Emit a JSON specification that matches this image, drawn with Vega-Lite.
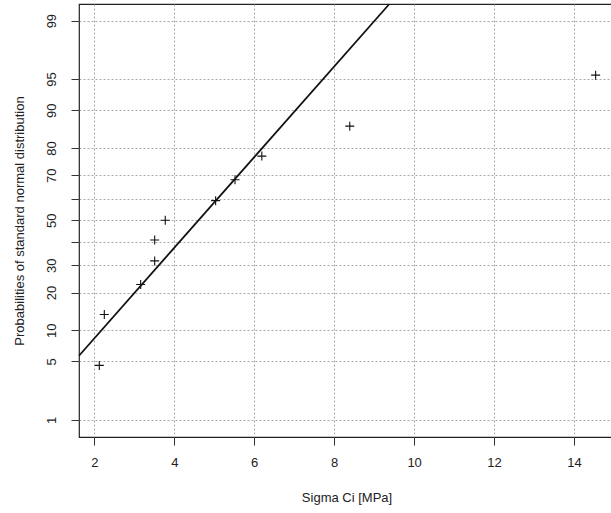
{
  "$schema": "https://vega.github.io/schema/vega-lite/v6.json",
  "width": 535,
  "height": 433,
  "autosize": "none",
  "padding": {"left": 79, "top": 4, "right": 0, "bottom": 76},
  "background": "white",
  "config": {
    "view": {"stroke": "#222", "strokeWidth": 1.2},
    "font": "Liberation Sans",
    "axis": {
      "labelFont": "Liberation Sans",
      "titleFont": "Liberation Sans",
      "labelFontSize": 13,
      "titleFontSize": 13,
      "titleFontWeight": "normal",
      "labelColor": "#222",
      "titleColor": "#222",
      "domain": false,
      "tickColor": "#333",
      "tickSize": 8,
      "grid": true,
      "gridColor": "#a8a8a8",
      "gridDash": [2, 2],
      "gridWidth": 1
    }
  },
  "datasets": {
    "pts": [
      {"sigma": 2.125, "z": -1.691},
      {"sigma": 2.25, "z": -1.097},
      {"sigma": 3.16, "z": -0.748},
      {"sigma": 3.51, "z": -0.473},
      {"sigma": 3.51, "z": -0.229},
      {"sigma": 3.775, "z": 0.0},
      {"sigma": 5.035, "z": 0.229},
      {"sigma": 5.52, "z": 0.473},
      {"sigma": 6.19, "z": 0.748},
      {"sigma": 8.39, "z": 1.097},
      {"sigma": 14.54, "z": 1.691}
    ],
    "fit": [
      {"sigma": 1.617, "z": -1.578},
      {"sigma": 9.375, "z": 2.517}
    ]
  },
  "encoding": {
    "x": {
      "field": "sigma",
      "type": "quantitative",
      "scale": {"domain": [1.617, 15.0], "nice": false, "zero": false},
      "axis": {
        "values": [2, 4, 6, 8, 10, 12, 14],
        "title": "Sigma Ci [MPa]",
        "labelPadding": 11,
        "titlePadding": 22
      }
    },
    "y": {
      "field": "z",
      "type": "quantitative",
      "scale": {"domain": [-2.525, 2.52], "nice": false, "zero": false},
      "axis": {
        "values": [-2.3263, -1.6449, -1.2816, -0.8416, -0.5244, -0.2533, 0, 0.2533, 0.5244, 0.8416, 1.2816, 1.6449, 2.3263],
        "labelExpr": "indexof(['40','60'], format(cumulativeNormal(datum.value)*100, '.0f')) >= 0 ? '' : format(cumulativeNormal(datum.value)*100, '.0f')",
        "labelAngle": -90,
        "labelAlign": "center",
        "labelBaseline": "bottom",
        "labelPadding": 13,
        "title": "Probabilities of standard normal distribution",
        "titlePadding": 19
      }
    }
  },
  "layer": [
    {
      "data": {"name": "fit"},
      "mark": {"type": "line", "color": "#111", "strokeWidth": 1.8}
    },
    {
      "data": {"name": "pts"},
      "mark": {
        "type": "point",
        "shape": "M-1,0L1,0M0,-1L0,1",
        "filled": false,
        "stroke": "#111",
        "strokeWidth": 1.1,
        "size": 81,
        "opacity": 1
      }
    }
  ]
}
